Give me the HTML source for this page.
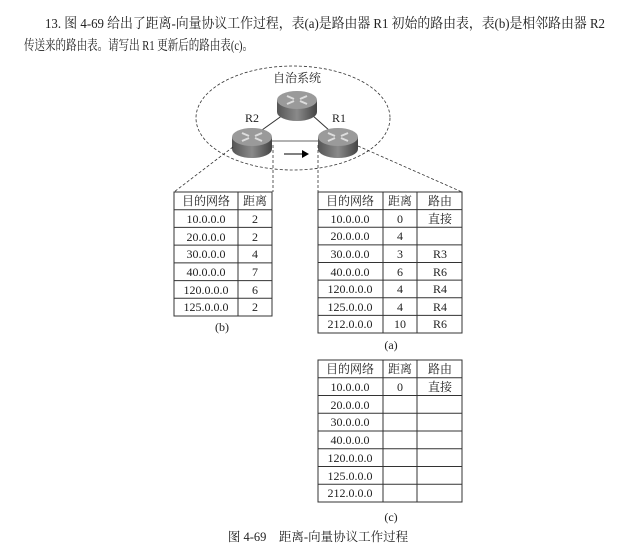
<!DOCTYPE html>
<html><head><meta charset="utf-8"><style>
html,body{margin:0;padding:0;background:#fff;}
svg{display:block;}
text{font-family:"Liberation Serif","Noto Serif CJK SC","Noto Sans CJK SC",serif;fill:#222;}
</style></head><body>
<svg width="629" height="556" viewBox="0 0 629 556" xmlns="http://www.w3.org/2000/svg">
<defs>
<linearGradient id="side" x1="0" y1="0" x2="1" y2="0">
<stop offset="0" stop-color="#555"/><stop offset="0.5" stop-color="#8a8a8a"/><stop offset="1" stop-color="#444"/>
</linearGradient>
<g id="router">
<path d="M-20,0 L-20,12 A20,9 0 0 0 20,12 L20,0 Z" fill="url(#side)"/>
<ellipse cx="0" cy="0" rx="20" ry="9" fill="#9a9a9a"/>
<path d="M-10,-4 L-3,-1 M10,-4 L3,-1 M-10,4 L-3,1 M10,4 L3,1" stroke="#ddd" stroke-width="2"/>
</g>
</defs>
<text x="45" y="28" font-size="14" textLength="560" lengthAdjust="spacingAndGlyphs">13. 图 4-69 给出了距离-向量协议工作过程，表(a)是路由器 R1 初始的路由表，表(b)是相邻路由器 R2</text>
<text x="24" y="50" font-size="14" textLength="229" lengthAdjust="spacingAndGlyphs">传送来的路由表。请写出 R1 更新后的路由表(c)。</text>

<ellipse cx="293" cy="118" rx="97" ry="52" fill="none" stroke="#333" stroke-dasharray="3,2" stroke-width="0.8"/>
<text x="297" y="82" font-size="12" text-anchor="middle">自治系统</text>
<text x="252" y="122" font-size="12" text-anchor="middle">R2</text>
<text x="339" y="122" font-size="12" text-anchor="middle">R1</text>
<line x1="283" y1="115" x2="262" y2="130" stroke="#333"/>
<line x1="312" y1="115" x2="330" y2="131" stroke="#333"/>
<line x1="270" y1="141" x2="320" y2="141" stroke="#999" stroke-width="1.5"/>
<use href="#router" x="297" y="100"/>
<use href="#router" x="252" y="137"/>
<use href="#router" x="338" y="137"/>
<line x1="284" y1="154" x2="302" y2="154" stroke="#000"/>
<path d="M302,150 L309,154 L302,158 Z" fill="#000"/>
<g stroke="#333" stroke-dasharray="3,2" stroke-width="0.8" fill="none">
<line x1="233" y1="147" x2="174" y2="192"/>
<line x1="273" y1="145" x2="273" y2="192"/>
<line x1="318" y1="145" x2="318" y2="192"/>
<line x1="358" y1="146" x2="462" y2="192"/>
</g>

<g font-size="12" text-anchor="middle">
<!-- table b -->
<g stroke="#333" stroke-width="1" fill="none">
<rect x="174" y="192" width="98" height="124"/>
<line x1="238" y1="192" x2="238" y2="316"/>
<line x1="174" y1="209.7" x2="272" y2="209.7"/><line x1="174" y1="227.4" x2="272" y2="227.4"/>
<line x1="174" y1="245.1" x2="272" y2="245.1"/><line x1="174" y1="262.9" x2="272" y2="262.9"/>
<line x1="174" y1="280.6" x2="272" y2="280.6"/><line x1="174" y1="298.3" x2="272" y2="298.3"/>
</g>
<text x="206" y="205">目的网络</text><text x="255" y="205">距离</text>
<text x="206" y="223">10.0.0.0</text><text x="255" y="223">2</text>
<text x="206" y="241">20.0.0.0</text><text x="255" y="241">2</text>
<text x="206" y="258">30.0.0.0</text><text x="255" y="258">4</text>
<text x="206" y="276">40.0.0.0</text><text x="255" y="276">7</text>
<text x="206" y="294">120.0.0.0</text><text x="255" y="294">6</text>
<text x="206" y="311">125.0.0.0</text><text x="255" y="311">2</text>
<text x="222" y="331">(b)</text>

<!-- table a -->
<g stroke="#333" stroke-width="1" fill="none">
<rect x="318" y="192" width="144" height="141"/>
<line x1="383" y1="192" x2="383" y2="333"/><line x1="417" y1="192" x2="417" y2="333"/>
<line x1="318" y1="209.6" x2="462" y2="209.6"/><line x1="318" y1="227.3" x2="462" y2="227.3"/>
<line x1="318" y1="244.9" x2="462" y2="244.9"/><line x1="318" y1="262.5" x2="462" y2="262.5"/>
<line x1="318" y1="280.1" x2="462" y2="280.1"/><line x1="318" y1="297.8" x2="462" y2="297.8"/>
<line x1="318" y1="315.4" x2="462" y2="315.4"/>
</g>
<text x="350" y="205">目的网络</text><text x="400" y="205">距离</text><text x="440" y="205">路由</text>
<text x="350" y="223">10.0.0.0</text><text x="400" y="223">0</text><text x="440" y="223">直接</text>
<text x="350" y="240">20.0.0.0</text><text x="400" y="240">4</text>
<text x="350" y="258">30.0.0.0</text><text x="400" y="258">3</text><text x="440" y="258">R3</text>
<text x="350" y="276">40.0.0.0</text><text x="400" y="276">6</text><text x="440" y="276">R6</text>
<text x="350" y="293">120.0.0.0</text><text x="400" y="293">4</text><text x="440" y="293">R4</text>
<text x="350" y="311">125.0.0.0</text><text x="400" y="311">4</text><text x="440" y="311">R4</text>
<text x="350" y="328">212.0.0.0</text><text x="400" y="328">10</text><text x="440" y="328">R6</text>
<text x="391" y="349">(a)</text>

<!-- table c -->
<g stroke="#333" stroke-width="1" fill="none">
<rect x="318" y="360" width="144" height="142"/>
<line x1="383" y1="360" x2="383" y2="502"/><line x1="417" y1="360" x2="417" y2="502"/>
<line x1="318" y1="377.7" x2="462" y2="377.7"/><line x1="318" y1="395.5" x2="462" y2="395.5"/>
<line x1="318" y1="413.2" x2="462" y2="413.2"/><line x1="318" y1="431" x2="462" y2="431"/>
<line x1="318" y1="448.7" x2="462" y2="448.7"/><line x1="318" y1="466.5" x2="462" y2="466.5"/>
<line x1="318" y1="484.2" x2="462" y2="484.2"/>
</g>
<text x="350" y="373">目的网络</text><text x="400" y="373">距离</text><text x="440" y="373">路由</text>
<text x="350" y="391">10.0.0.0</text><text x="400" y="391">0</text><text x="440" y="391">直接</text>
<text x="350" y="409">20.0.0.0</text>
<text x="350" y="426">30.0.0.0</text>
<text x="350" y="444">40.0.0.0</text>
<text x="350" y="462">120.0.0.0</text>
<text x="350" y="480">125.0.0.0</text>
<text x="350" y="497">212.0.0.0</text>
<text x="391" y="521">(c)</text>
</g>
<text x="318" y="541" font-size="12.5" text-anchor="middle">图 4-69　距离-向量协议工作过程</text>
</svg>
</body></html>
